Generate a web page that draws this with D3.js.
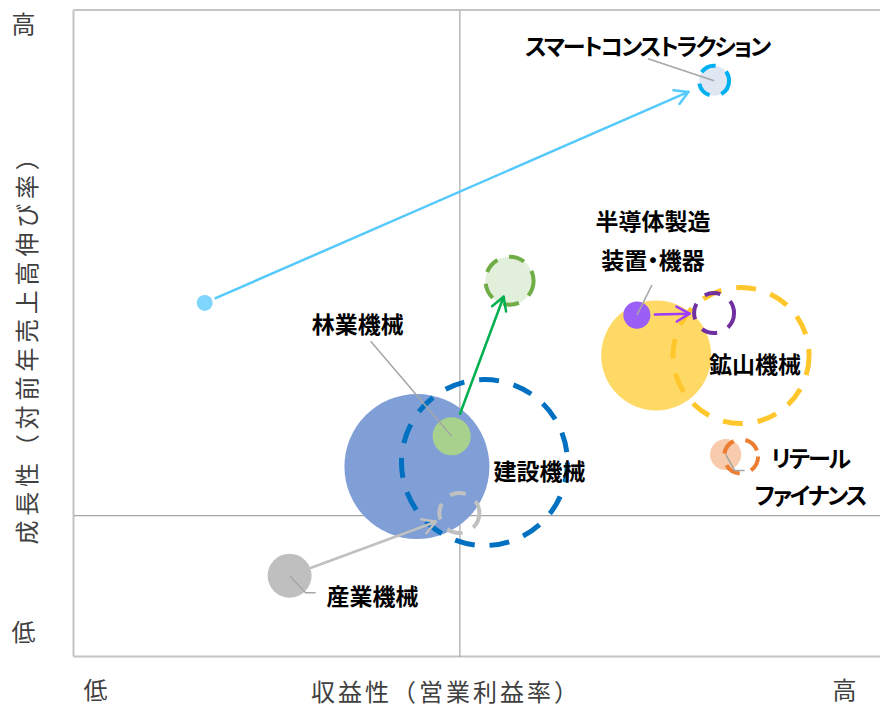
<!DOCTYPE html>
<html>
<head>
<meta charset="utf-8">
<script src="https://cdn.jsdelivr.net/npm/d3@7"></script>
<style>
  html, body { margin: 0; padding: 0; background: #fff; }
  svg { display: block; font-family: "Noto Sans CJK JP", "Noto Sans", sans-serif; }
  .seg-label { font-weight: 700; font-size: 23px; fill: #000; font-feature-settings: "palt"; }
  .seg-label.kana { letter-spacing: -2px; }
  .axis-text { font-size: 24px; fill: #404040; letter-spacing: 3px; }
  .axis-text.vertical { letter-spacing: 4.8px; }
</style>
</head>
<body>
<svg id="chart" width="880" height="706"></svg>
<script>
// Business segments: current position (solid bubble) and target position (dashed bubble)
const segments = ["スマートコンストラクション", "半導体製造装置・機器", "鉱山機械", "リテールファイナンス", "建設機械", "林業機械", "産業機械"];
const labelLines = [["スマートコンストラクション"], ["半導体製造", "装置・機器"], ["鉱山機械"], ["リテール", "ファイナンス"], ["建設機械"], ["林業機械"], ["産業機械"]];

// profitability (x) / growth (y) / business size (bubble area)
const currentProfit = [-6.6, 4.6, 5.1, 6.9, -1.1, -0.2, -4.4];
const currentGrowth = [10.5, 9.9, 7.9, 3.0, 2.4, 3.9, -3.0];
const currentSize   = [1.2, 3.5, 57.5, 4.6, 100, 6.9, 9.2];

const futureProfit = [6.6, 6.6, 7.3, 7.3, 0.65, 1.3, 0.0];
const futureGrowth = [21.5, 10.0, 7.9, 2.9, 2.6, 11.6, 0.1];
const futureSize   = [4.3, 7.6, 88, 5.5, 131, 11, 7.6];

// segments whose move is shown with an arrow
const arrowSegments = ["スマートコンストラクション", "半導体製造装置・機器", "林業機械", "産業機械"];

// axis texts
const xAxisTitle = "収益性（営業利益率）";
const yAxisTitle = "成長性（対前年売上高伸び率）";
const axisEnds = ["低", "高"];

// ---- styles ----
const currentFill = ["#80d5fc", "#9b5ff7", "#ffd966", "#f8cbad", "#7f9fd6", "#a9d18e", "#bfbfbf"];
const futureStroke = ["#00b0f0", "#7030a0", "#ffc72c", "#ed7d31", "#0070c0", "#70ad47", "#c0c0c0"];
const futureFill = ["#dee7f2", "none", "none", "none", "none", "#e2efda", "none"];
const futureWidth = [4, 4, 5, 4, 5, 4, 4];
const arrowColor = {"スマートコンストラクション": "#55c9fb", "半導体製造装置・機器": "#9b3cff", "林業機械": "#00b050", "産業機械": "#c0c0c0"};
const arrowGap = {"スマートコンストラクション": [4, 13], "半導体製造装置・機器": [4.5, 4.5], "林業機械": [5, -7], "産業機械": [1, 5]};

// label placement relative to a bubble: [anchor ("cur"/"fut"), dx, dy, lineHeight]
const labelPlace = [["fut", -67, -36, 0], ["cur", 16, -95, 39], ["fut", 14, 8, 0], ["fut", 69, 1, 37], ["fut", 55, 7, 0], ["cur", -94, -113, 0], ["cur", 83, 19, 0]];
// leader lines: points relative to anchor bubble centre
const leaderPts = [
  ["fut", [[-66, -22], [0, 0]]],
  ["cur", [[15, -30], [0, 0]]],
  null,
  ["cur", [[0, 0], [9, 16], [19, 16]]],
  null,
  ["cur", [[-81, -95], [0, 0]]],
  ["cur", [[0, 0], [16, 17], [26, 17]]]
];

const isKana = s => /^[\u30A0-\u30FF]+$/.test(s);

const svg = d3.select("#chart");
const x = d3.scaleLinear().domain([-10, 10.9]).range([73.5, 880]);
const y = d3.scaleLinear().domain([-7, 25]).range([656.5, 10]);
const r = d3.scaleSqrt().domain([0, 100]).range([0, 72.5]);

const data = segments.map((name, i) => ({
  name, i,
  cx: x(currentProfit[i]), cy: y(currentGrowth[i]), cr: r(currentSize[i]),
  fx: x(futureProfit[i]), fy: y(futureGrowth[i]), fr: r(futureSize[i])
}));

// ---- frame ----
const frame = svg.append("g").attr("stroke", "#c4c4c4").attr("stroke-width", 2).attr("fill", "none");
frame.append("line").attr("x1", x(-10)).attr("x2", x(-10)).attr("y1", y(25)).attr("y2", y(-7));
frame.append("line").attr("x1", x(-10)).attr("x2", x(10.9)).attr("y1", y(25)).attr("y2", y(25));
frame.append("line").attr("x1", x(-10)).attr("x2", x(10.9)).attr("y1", y(-7)).attr("y2", y(-7));

// ---- centre axes (no ticks) ----
svg.append("g").attr("transform", `translate(0,${y(0)})`)
  .call(d3.axisBottom(x).tickValues([]).tickSizeOuter(0));
svg.append("g").attr("transform", `translate(${x(0)},0)`)
  .call(d3.axisLeft(y).tickValues([]).tickSizeOuter(0));
svg.selectAll(".domain").attr("stroke", "#a6a6a6").attr("stroke-width", 1.2);

// ---- current bubbles, largest first ----
svg.append("g").selectAll("circle")
  .data(data.slice().sort((a, b) => b.cr - a.cr))
  .join("circle")
  .attr("cx", d => d.cx).attr("cy", d => d.cy).attr("r", d => d.cr)
  .attr("fill", d => currentFill[d.i]);

// ---- target bubbles (dashed) ----
svg.append("g").selectAll("circle")
  .data(data.slice().sort((a, b) => b.fr - a.fr))
  .join("circle")
  .attr("cx", d => d.fx).attr("cy", d => d.fy).attr("r", d => d.fr)
  .attr("fill", d => futureFill[d.i])
  .attr("stroke", d => futureStroke[d.i])
  .attr("stroke-width", d => futureWidth[d.i])
  .attr("stroke-dasharray", d => `${futureWidth[d.i] * 4} ${futureWidth[d.i] * 3}`);

// ---- arrows ----
const ag = svg.append("g").attr("fill", "none").attr("stroke-width", 2.5).attr("stroke-linecap", "round");
data.filter(d => arrowSegments.includes(d.name)).forEach(d => {
  const dx = d.fx - d.cx, dy = d.fy - d.cy, len = Math.hypot(dx, dy);
  const ux = dx / len, uy = dy / len;
  const [g0, g1] = arrowGap[d.name];
  const sx = d.cx + ux * (d.cr + g0), sy = d.cy + uy * (d.cr + g0);
  const tx = d.fx - ux * (d.fr + g1), ty = d.fy - uy * (d.fr + g1);
  const L = 15, a = Math.PI / 6;
  const arm = s => [tx - L * (ux * Math.cos(a) - s * uy * Math.sin(a)), ty - L * (uy * Math.cos(a) + s * ux * Math.sin(a))];
  const col = arrowColor[d.name];
  ag.append("line").attr("x1", sx).attr("y1", sy).attr("x2", tx).attr("y2", ty).attr("stroke", col);
  ag.append("path").attr("d", d3.line()([arm(1), [tx, ty], arm(-1)])).attr("stroke", col).attr("stroke-linejoin", "round");
});

// ---- leader lines ----
const lg = svg.append("g").attr("fill", "none").attr("stroke", "#a6a6a6").attr("stroke-width", 1.5);
data.forEach(d => {
  const spec = leaderPts[d.i];
  if (!spec) return;
  const [ax, ay] = spec[0] === "cur" ? [d.cx, d.cy] : [d.fx, d.fy];
  lg.append("path").attr("d", d3.line()(spec[1].map(p => [ax + p[0], ay + p[1]])));
});

// ---- segment labels ----
const tg = svg.append("g");
data.forEach(d => {
  const [anchor, dx, dy, lh] = labelPlace[d.i];
  const [ax, ay] = anchor === "cur" ? [d.cx, d.cy] : [d.fx, d.fy];
  labelLines[d.i].forEach((line, k) => {
    tg.append("text").attr("class", isKana(line) ? "seg-label kana" : "seg-label")
      .attr("x", ax + dx).attr("y", ay + dy + k * lh)
      .attr("text-anchor", "middle").attr("dominant-baseline", "central")
      .text(line);
  });
});

// ---- axis texts ----
const at = svg.append("g");
at.append("text").attr("class", "axis-text").attr("x", 97).attr("y", 688)
  .attr("text-anchor", "middle").attr("dominant-baseline", "central").text(axisEnds[0]);
at.append("text").attr("class", "axis-text").attr("x", 846).attr("y", 688)
  .attr("text-anchor", "middle").attr("dominant-baseline", "central").text(axisEnds[1]);
at.append("text").attr("class", "axis-text").attr("x", 446).attr("y", 690)
  .attr("text-anchor", "middle").attr("dominant-baseline", "central").text(xAxisTitle);
at.append("text").attr("class", "axis-text").attr("x", 25).attr("y", 22)
  .attr("text-anchor", "middle").attr("dominant-baseline", "central").text(axisEnds[1]);
at.append("text").attr("class", "axis-text").attr("x", 25).attr("y", 630)
  .attr("text-anchor", "middle").attr("dominant-baseline", "central").text(axisEnds[0]);
at.append("text").attr("class", "axis-text vertical")
  .attr("transform", "translate(25,343) rotate(-90)")
  .attr("text-anchor", "middle").attr("dominant-baseline", "central").text(yAxisTitle);
</script>
</body>
</html>
